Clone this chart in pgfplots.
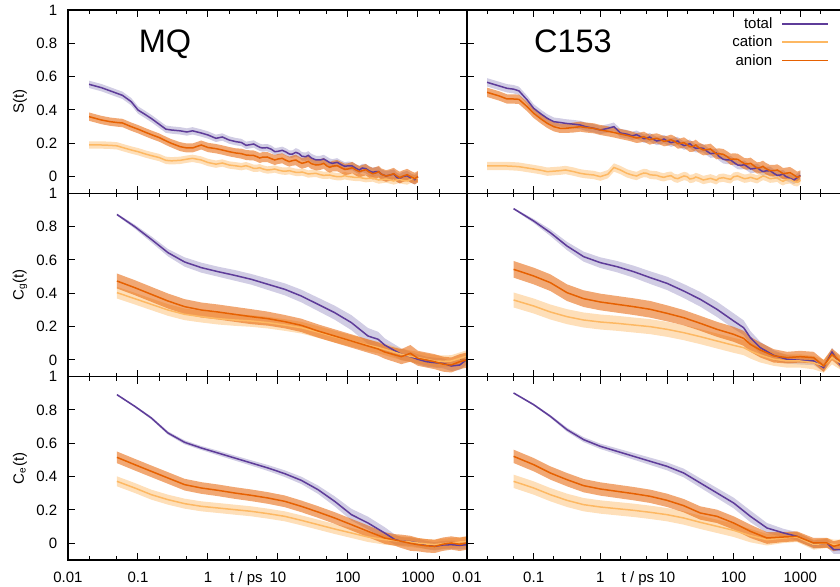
\documentclass[border=0pt]{standalone}
\usepackage{fontspec}
\setmainfont{Liberation Sans}
\usepackage{pgfplots}
\usepackage{pgfplotstable}
\pgfplotsset{compat=1.18}

\definecolor{ctot}{HTML}{5E3C99}
\definecolor{ccat}{HTML}{FDB863}
\definecolor{cani}{HTML}{E66101}
\definecolor{btotc}{HTML}{B2ABD2}

% S(t), MQ
\pgfplotstableread{
t      tot    et     cat    ec     ani    ea
0.02   0.554  0.022  0.190  0.022  0.360  0.025
0.03   0.534  0.022  0.190  0.022  0.340  0.025
0.04   0.515  0.022  0.188  0.022  0.330  0.025
0.05   0.500  0.022  0.185  0.022  0.325  0.025
0.06   0.488  0.022  0.175  0.022  0.322  0.025
0.08   0.450  0.022  0.160  0.022  0.300  0.025
0.1    0.400  0.022  0.150  0.022  0.285  0.025
0.13   0.370  0.022  0.135  0.022  0.265  0.025
0.16   0.345  0.022  0.125  0.022  0.250  0.025
0.2    0.315  0.022  0.115  0.022  0.235  0.025
0.25   0.285  0.022  0.098  0.022  0.215  0.025
0.3    0.280  0.022  0.095  0.022  0.200  0.025
0.4    0.275  0.022  0.098  0.022  0.180  0.027
0.5    0.268  0.022  0.105  0.022  0.172  0.027
0.6    0.275  0.022  0.110  0.022  0.172  0.027
0.8    0.262  0.022  0.100  0.022  0.190  0.027
1      0.250  0.022  0.085  0.022  0.175  0.028
1.3    0.230  0.022  0.075  0.022  0.168  0.028
1.6    0.238  0.022  0.082  0.022  0.160  0.028
2      0.220  0.022  0.070  0.022  0.150  0.028
2.5    0.210  0.022  0.065  0.022  0.142  0.028
3      0.205  0.022  0.060  0.022  0.138  0.030
3.5    0.188  0.022  0.066  0.022  0.130  0.030
4      0.192  0.022  0.058  0.022  0.128  0.030
4.5    0.196  0.022  0.050  0.022  0.127  0.030
5      0.185  0.022  0.050  0.022  0.120  0.030
5.5    0.176  0.022  0.054  0.022  0.112  0.030
6      0.172  0.022  0.047  0.022  0.117  0.030
7      0.174  0.022  0.040  0.022  0.118  0.030
8      0.165  0.022  0.042  0.022  0.108  0.030
9      0.150  0.022  0.046  0.022  0.100  0.030
10     0.152  0.022  0.040  0.022  0.106  0.030
11.5   0.158  0.022  0.034  0.022  0.110  0.030
13     0.148  0.022  0.033  0.022  0.098  0.030
14.5   0.136  0.022  0.036  0.022  0.090  0.030
16     0.135  0.022  0.031  0.022  0.096  0.030
18     0.146  0.025  0.026  0.022  0.100  0.032
20     0.138  0.025  0.025  0.022  0.088  0.032
22     0.122  0.025  0.028  0.022  0.080  0.032
25     0.120  0.025  0.021  0.022  0.086  0.032
27     0.128  0.025  0.016  0.022  0.092  0.032
30     0.112  0.025  0.018  0.022  0.078  0.032
35     0.100  0.025  0.020  0.022  0.070  0.032
40     0.100  0.025  0.012  0.022  0.072  0.032
45     0.106  0.025  0.008  0.022  0.080  0.032
50     0.095  0.025  0.009  0.022  0.064  0.032
55     0.084  0.025  0.010  0.022  0.056  0.032
60     0.080  0.025  0.005  0.022  0.063  0.032
70     0.086  0.025  0.000  0.022  0.066  0.034
80     0.072  0.025  0.000  0.022  0.054  0.034
90     0.062  0.025  0.006  0.022  0.044  0.034
100    0.065  0.025  0.001  0.022  0.046  0.034
115    0.064  0.025  -0.002 0.022  0.054  0.034
130    0.050  0.025  -0.005 0.022  0.040  0.034
145    0.040  0.025  -0.004 0.022  0.030  0.034
160    0.052  0.025  -0.008 0.022  0.036  0.034
180    0.048  0.028  -0.012 0.022  0.042  0.034
200    0.035  0.028  -0.010 0.022  0.028  0.034
225    0.026  0.028  -0.008 0.022  0.018  0.035
250    0.030  0.028  -0.015 0.022  0.022  0.035
275    0.030  0.028  -0.020 0.022  0.030  0.035
300    0.015  0.028  -0.018 0.022  0.014  0.035
350    0.004  0.028  -0.014 0.022  0.004  0.035
400    0.010  0.028  -0.020 0.022  0.010  0.035
450    0.016  0.028  -0.026 0.022  0.018  0.035
500    -0.005 0.028  -0.020 0.022  0.004  0.035
550    -0.012 0.028  -0.016 0.022  -0.006 0.035
600    0.000  0.028  -0.022 0.022  0.002  0.035
700    0.006  0.028  -0.026 0.022  0.012  0.035
800    -0.010 0.028  -0.015 0.022  -0.002 0.035
900    -0.018 0.028  -0.010 0.022  -0.012 0.035
1000   0.000  0.028  -0.010 0.022  0.000  0.035
}\tabTL

% S(t), C153
\pgfplotstableread{
t      tot    et     cat    ec     ani    ea
0.02   0.566  0.025  0.064  0.025  0.506  0.028
0.03   0.545  0.025  0.064  0.025  0.485  0.028
0.04   0.530  0.025  0.064  0.025  0.466  0.028
0.05   0.525  0.025  0.062  0.025  0.466  0.028
0.06   0.515  0.025  0.060  0.025  0.464  0.028
0.08   0.460  0.025  0.052  0.025  0.420  0.028
0.1    0.410  0.025  0.046  0.025  0.380  0.028
0.13   0.375  0.025  0.038  0.025  0.345  0.028
0.16   0.350  0.025  0.030  0.025  0.320  0.028
0.2    0.330  0.025  0.033  0.025  0.300  0.028
0.25   0.325  0.025  0.036  0.025  0.290  0.028
0.3    0.320  0.025  0.040  0.025  0.290  0.028
0.4    0.315  0.025  0.030  0.025  0.295  0.030
0.5    0.310  0.025  0.020  0.025  0.300  0.030
0.6    0.300  0.025  0.015  0.025  0.295  0.030
0.8    0.290  0.025  0.010  0.025  0.290  0.030
1      0.280  0.025  0.000  0.025  0.280  0.030
1.3    0.290  0.025  0.015  0.025  0.272  0.030
1.6    0.300  0.025  0.055  0.025  0.265  0.030
2      0.262  0.025  0.040  0.025  0.256  0.030
2.5    0.255  0.025  0.020  0.025  0.248  0.030
3      0.245  0.025  0.010  0.025  0.240  0.030
3.5    0.252  0.025  0.004  0.025  0.232  0.030
4      0.240  0.025  0.015  0.025  0.235  0.030
4.5    0.228  0.025  0.022  0.025  0.240  0.030
5      0.230  0.025  0.020  0.025  0.230  0.030
5.5    0.238  0.025  0.012  0.025  0.222  0.030
6      0.228  0.025  0.010  0.025  0.226  0.030
7      0.214  0.025  0.008  0.025  0.230  0.030
8      0.218  0.025  0.000  0.025  0.222  0.030
9      0.226  0.025  -0.004 0.025  0.212  0.030
10     0.215  0.025  0.002  0.025  0.215  0.030
11.5   0.204  0.025  0.006  0.025  0.222  0.030
13     0.210  0.025  -0.008 0.025  0.212  0.030
14.5   0.214  0.025  -0.012 0.025  0.198  0.030
16     0.198  0.025  -0.004 0.025  0.200  0.030
18     0.186  0.025  0.004  0.025  0.204  0.032
20     0.192  0.025  0.000  0.025  0.192  0.032
22     0.198  0.025  -0.014 0.025  0.180  0.032
25     0.178  0.025  -0.010 0.025  0.182  0.032
27     0.170  0.025  -0.002 0.025  0.190  0.032
30     0.172  0.025  -0.008 0.025  0.174  0.032
35     0.170  0.025  -0.020 0.025  0.160  0.032
40     0.152  0.025  -0.015 0.025  0.162  0.032
45     0.138  0.025  -0.010 0.025  0.166  0.032
50     0.140  0.025  -0.016 0.025  0.150  0.032
55     0.142  0.025  -0.022 0.025  0.136  0.032
60     0.122  0.025  -0.010 0.025  0.138  0.032
70     0.104  0.025  -0.006 0.025  0.134  0.032
80     0.100  0.025  -0.012 0.025  0.120  0.032
90     0.100  0.025  -0.016 0.025  0.104  0.034
100    0.086  0.025  0.000  0.025  0.106  0.034
115    0.070  0.025  0.004  0.025  0.104  0.034
130    0.068  0.025  -0.005 0.025  0.090  0.034
145    0.072  0.025  -0.012 0.025  0.078  0.034
160    0.060  0.025  -0.010 0.025  0.076  0.034
180    0.046  0.025  -0.004 0.025  0.080  0.034
200    0.048  0.025  -0.010 0.025  0.066  0.034
225    0.054  0.025  -0.016 0.025  0.052  0.034
250    0.040  0.025  -0.005 0.025  0.054  0.034
275    0.030  0.025  0.004  0.025  0.062  0.034
300    0.034  0.025  0.000  0.025  0.050  0.034
350    0.036  0.025  -0.012 0.025  0.036  0.034
400    0.020  0.025  -0.010 0.025  0.036  0.034
450    0.008  0.025  -0.006 0.025  0.040  0.034
500    0.010  0.025  -0.020 0.025  0.030  0.034
550    0.016  0.025  -0.028 0.025  0.018  0.034
600    0.002  0.025  -0.020 0.025  0.020  0.034
700    -0.010 0.025  -0.016 0.025  0.024  0.034
800    -0.020 0.025  -0.030 0.025  0.010  0.034
900    -0.006 0.025  -0.034 0.025  -0.004 0.034
1000   0.008  0.025  -0.020 0.025  0.004  0.034
}\tabTR

% Cg(t), MQ
\pgfplotstableread{
t     tot    et    cat    ec    ani    ea
0.05  0.873  0.006 0.404  0.035 0.474  0.045
0.09  0.800  0.012 0.368  0.035 0.434  0.045
0.155 0.724  0.018 0.334  0.035 0.394  0.045
0.268 0.644  0.022 0.300  0.035 0.354  0.045
0.464 0.588  0.028 0.274  0.035 0.320  0.045
0.803 0.554  0.030 0.260  0.035 0.300  0.045
1.39  0.530  0.030 0.248  0.035 0.288  0.045
2.40  0.508  0.032 0.240  0.035 0.274  0.045
4.16  0.484  0.032 0.234  0.035 0.260  0.045
7.20  0.454  0.034 0.224  0.035 0.248  0.042
12.5  0.424  0.036 0.210  0.035 0.230  0.040
21.5  0.384  0.038 0.194  0.035 0.208  0.040
37.3  0.334  0.040 0.168  0.035 0.174  0.040
64.5  0.284  0.042 0.140  0.035 0.144  0.040
112   0.224  0.045 0.114  0.035 0.114  0.040
193   0.144  0.048 0.088  0.035 0.084  0.040
270   0.124  0.045 0.075  0.035 0.066  0.040
334   0.090  0.040 0.064  0.035 0.048  0.040
578   0.034  0.035 0.034  0.035 0.020  0.045
780   0.020  0.030 0.022  0.035 0.040  0.050
1000  0.004  0.030 0.014  0.035 0.010  0.045
1320  -0.010 0.030 0.004  0.035 0.000  0.045
1730  -0.016 0.030 -0.006 0.035 -0.010 0.045
2280  -0.020 0.030 -0.008 0.035 -0.025 0.045
2990  -0.036 0.030 -0.006 0.035 -0.030 0.045
3950  -0.030 0.030 0.010  0.035 -0.010 0.045
5000  0.004  0.030 0.024  0.035 0.000  0.045
}\tabML

% Cg(t), C153
\pgfplotstableread{
t     tot    et    cat    ec    ani    ea
0.05  0.908  0.005 0.360  0.045 0.544  0.050
0.1   0.834  0.012 0.324  0.045 0.504  0.050
0.178 0.764  0.020 0.288  0.045 0.464  0.050
0.316 0.684  0.025 0.260  0.045 0.404  0.050
0.562 0.620  0.030 0.240  0.045 0.368  0.050
1     0.584  0.032 0.228  0.045 0.348  0.050
1.78  0.560  0.034 0.220  0.045 0.334  0.050
3.16  0.530  0.036 0.210  0.045 0.320  0.050
5.62  0.494  0.038 0.200  0.045 0.304  0.050
10    0.460  0.040 0.184  0.045 0.280  0.048
17.8  0.414  0.042 0.164  0.045 0.254  0.046
31.6  0.364  0.044 0.140  0.045 0.220  0.045
56.2  0.304  0.046 0.114  0.045 0.184  0.045
100   0.234  0.046 0.088  0.045 0.154  0.045
141   0.194  0.044 0.074  0.045 0.130  0.045
178   0.134  0.040 0.054  0.045 0.094  0.045
251   0.074  0.035 0.030  0.045 0.060  0.045
398   0.028  0.030 0.005  0.040 0.025  0.040
631   0.004  0.025 -0.006 0.040 0.014  0.035
1000  -0.002 0.025 -0.006 0.040 0.020  0.035
1585  -0.006 0.025 -0.016 0.040 0.014  0.035
2239  -0.046 0.025 -0.036 0.040 -0.036 0.035
2985  0.048  0.025 0.014  0.040 0.034  0.035
3936  -0.026 0.025 -0.016 0.040 -0.006 0.035
5000  0.000  0.025 0.000  0.040 0.000  0.035
}\tabMR

% Ce(t), MQ
\pgfplotstableread{
t     tot    et    cat    ec    ani    ea
0.05  0.892  0.004 0.372  0.030 0.516  0.035
0.09  0.822  0.006 0.332  0.030 0.472  0.035
0.155 0.752  0.008 0.292  0.030 0.432  0.035
0.268 0.662  0.010 0.262  0.030 0.392  0.035
0.464 0.606  0.012 0.238  0.030 0.352  0.035
0.803 0.572  0.012 0.222  0.030 0.332  0.035
1.39  0.542  0.014 0.212  0.030 0.318  0.035
2.40  0.512  0.015 0.202  0.030 0.302  0.035
4.16  0.482  0.016 0.192  0.030 0.288  0.035
7.20  0.452  0.018 0.178  0.030 0.272  0.035
12.5  0.418  0.020 0.162  0.030 0.252  0.035
21.5  0.378  0.022 0.138  0.030 0.222  0.035
37.3  0.322  0.025 0.112  0.030 0.188  0.035
64.5  0.252  0.030 0.086  0.030 0.152  0.035
112   0.172  0.035 0.062  0.030 0.112  0.035
193   0.122  0.038 0.038  0.030 0.072  0.035
334   0.062  0.035 0.022  0.030 0.032  0.035
470   0.022  0.030 0.016  0.030 0.020  0.035
578   0.012  0.025 0.012  0.030 0.012  0.040
780   0.010  0.025 0.008  0.030 0.000  0.045
1000  0.002  0.025 0.002  0.030 -0.008 0.040
1320  -0.010 0.025 -0.004 0.030 -0.015 0.040
1730  -0.018 0.025 -0.008 0.030 -0.018 0.040
2280  -0.010 0.025 -0.002 0.030 -0.005 0.040
2990  -0.008 0.025 0.002  0.030 0.002  0.040
3950  -0.012 0.025 0.008  0.030 -0.006 0.040
5000  -0.008 0.025 0.012  0.030 0.002  0.040
}\tabBL

% Ce(t), C153
\pgfplotstableread{
t     tot    et    cat    ec    ani    ea
0.05  0.902  0.004 0.372  0.040 0.522  0.040
0.1   0.832  0.006 0.332  0.040 0.472  0.040
0.178 0.762  0.008 0.292  0.040 0.422  0.040
0.316 0.682  0.012 0.258  0.040 0.382  0.040
0.562 0.622  0.015 0.232  0.040 0.346  0.040
1     0.582  0.016 0.218  0.040 0.326  0.040
1.78  0.552  0.018 0.208  0.040 0.312  0.040
3.16  0.522  0.020 0.198  0.040 0.298  0.040
5.62  0.492  0.022 0.186  0.040 0.282  0.040
10    0.462  0.024 0.172  0.040 0.258  0.040
17.8  0.422  0.026 0.152  0.040 0.226  0.040
31.6  0.362  0.028 0.126  0.040 0.182  0.040
56.2  0.302  0.030 0.102  0.040 0.162  0.040
100   0.242  0.032 0.078  0.040 0.122  0.040
178   0.162  0.035 0.046  0.040 0.072  0.040
316   0.092  0.030 0.022  0.035 0.032  0.035
562   0.062  0.025 0.032  0.030 0.038  0.030
891   0.042  0.025 0.038  0.030 0.042  0.030
1585  -0.008 0.025 -0.008 0.030 0.002  0.030
2512  0.002  0.025 0.002  0.030 0.002  0.030
3162  -0.038 0.025 -0.008 0.030 -0.018 0.030
3936  -0.038 0.025 -0.008 0.030 -0.008 0.030
5000  -0.030 0.025 0.000  0.030 0.000  0.030
}\tabBR

% error band as a stacked area: table, column, error column, fill options, top of previous band
\newcommand{\band}[5]{%
  \addplot[draw=none, forget plot, stack plots=y] table[x=t, y expr=\thisrow{#2}-\thisrow{#3}-#5] {#1};
  \addplot[draw=none, forget plot, stack plots=y, #4] table[x=t, y expr=2*\thisrow{#3}] {#1} \closedcycle;
}
\newcommand{\curves}[1]{%
  \band{#1}{tot}{et}{fill=btotc, fill opacity=0.6}{0}
  \band{#1}{cat}{ec}{fill=ccat, fill opacity=0.45}{(\thisrow{tot}+\thisrow{et})}
  \band{#1}{ani}{ea}{fill=cani, fill opacity=0.55}{(\thisrow{cat}+\thisrow{ec})}
  \addplot[ctot, line width=0.9pt] table[x=t, y=tot] {#1};
  \addplot[ccat, line width=0.9pt] table[x=t, y=cat] {#1};
  \addplot[cani, line width=0.9pt] table[x=t, y=ani] {#1};
}

\pgfplotsset{
  mypanel/.style={
    scale only axis, height=110pt,
    xmin=0.01, xmax=5012, ymin=-0.1, ymax=1,
    xtick={0.01,0.1,1,10,100,1000},
    minor xtick={0.02,0.05,0.2,0.5,2,5,20,50,200,500,2000,5000},
    ytick={0,0.2,0.4,0.6,0.8,1},
    xticklabels={}, yticklabels={},
    major tick length=4.2pt, minor tick length=2.4pt,
    tick style={black, line width=0.6pt},
    axis line style={line width=0.8pt},
    tick label style={font=\fontsize{9}{10.8}\selectfont},
    xticklabel style={yshift=-3.6pt},
    yticklabel style={xshift=-3pt},
    label style={font=\fontsize{9}{10.8}\selectfont},
    ylabel style={at={(axis description cs:-0.1203,0.5)}, anchor=center},
    xlabel style={at={(axis description cs:0.447,0)}, anchor=north, yshift=-3.6pt},
  },
  myleft/.style={mypanel, width=239.4pt, yticklabels={0,0.2,0.4,0.6,0.8,1}},
  myright/.style={mypanel, width=228pt},
  mybottom/.style={xticklabels={0.01,0.1,1,10,100,1000}, xlabel={t / ps}},
}

\begin{document}
\begin{tikzpicture}
\begin{semilogxaxis}[myleft, at={(0pt,0pt)}, anchor=north west, ylabel={S(t)}]
  \curves{\tabTL}
  \node[font=\fontsize{19.5}{22}\selectfont, anchor=base] at (axis cs:0.243,0.742) {MQ};
\end{semilogxaxis}
\begin{semilogxaxis}[myright, at={(239.4pt,0pt)}, anchor=north west,
    legend cell align=right, legend plot pos=right,
    legend image code/.code={\draw[#1] (0pt,0pt) -- (27.6pt,0pt);},
    legend style={at={(axis description cs:0.954,0.976)}, anchor=north east,
      draw=none, fill=none, inner sep=0pt, font=\fontsize{9}{10.8}\selectfont,
      nodes={inner sep=1pt, text height=0.72em, text depth=0.18em},
      /tikz/column sep=4.6pt}]
  \curves{\tabTR}
  \node[font=\fontsize{19.5}{22}\selectfont, anchor=base] at (axis cs:0.389,0.742) {C153};
  \legend{total,cation,anion}
\end{semilogxaxis}
\begin{semilogxaxis}[myleft, at={(0pt,-110pt)}, anchor=north west, ylabel={C\textsubscript{g}(t)}]
  \curves{\tabML}
\end{semilogxaxis}
\begin{semilogxaxis}[myright, at={(239.4pt,-110pt)}, anchor=north west]
  \curves{\tabMR}
\end{semilogxaxis}
\begin{semilogxaxis}[myleft, mybottom, at={(0pt,-220pt)}, anchor=north west, ylabel={C\textsubscript{e}(t)}]
  \curves{\tabBL}
\end{semilogxaxis}
\begin{semilogxaxis}[myright, mybottom, at={(239.4pt,-220pt)}, anchor=north west,
    xlabel style={at={(axis description cs:0.45,0)}}]
  \curves{\tabBR}
\end{semilogxaxis}
\pgfresetboundingbox
\path[use as bounding box] (-40.8pt,6pt) rectangle (463.2pt,-346.2pt);
\end{tikzpicture}
\end{document}
